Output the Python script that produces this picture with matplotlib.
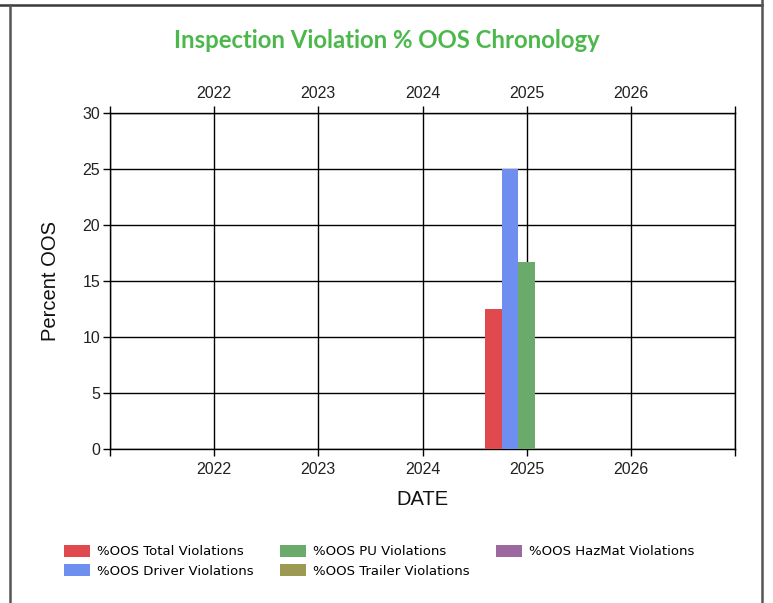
import numpy as np
import matplotlib.pyplot as plt
from matplotlib.lines import Line2D

# Data
years = [2025]
series = ["%OOS Total Violations", "%OOS Driver Violations", "%OOS PU Violations",
          "%OOS Trailer Violations", "%OOS HazMat Violations"]
total = [12.5]
driver = [25.0]
pu = [16.67]
trailer = [0.0]
hazmat = [0.0]
colors = ["#e04a4e", "#6f8ff0", "#6aaa6a", "#9c9a52", "#9b68a0"]

tick_years = [2021, 2022, 2023, 2024, 2025, 2026, 2027]
tick_labels = ["", "2022", "2023", "2024", "2025", "2026", ""]

plt.rcParams["font.family"] = ["Liberation Sans", "DejaVu Sans"]

fig = plt.figure(figsize=(7.73, 6.03), dpi=100)
ax = fig.add_axes([110/773, 1-449/603, 625/773, 336/603])

width = 0.16
x = np.array(years, dtype=float)
for i, (vals, lab) in enumerate(zip([total, driver, pu, trailer, hazmat], series)):
    ax.bar(x + (i - 2) * width, vals, width, color=colors[i], label=lab, zorder=3)

ax.set_xlim(2021, 2027)
ax.set_ylim(0, 30)
ax.set_yticks(np.arange(0, 31, 5))
ax.set_xticks(tick_years)
ax.set_xticklabels(tick_labels)
ax.grid(True, color="black", linewidth=1, zorder=1)
ax.tick_params(axis="x", which="both", top=True, labeltop=True, direction="out",
               length=5, width=1, labelsize=11.5, colors="black", labelcolor="#222222", pad=4)
ax.tick_params(axis="y", direction="out", length=5, width=1, labelsize=11.5,
               labelcolor="#222222", pad=2)
for s in ax.spines.values():
    s.set_linewidth(1)
    s.set_color("black")

ax.set_xlabel("DATE", fontsize=14.5, labelpad=10, color="#111111")
ax.set_ylabel("Percent OOS", fontsize=14.5, labelpad=16, color="#111111")

fig.text(0.5, 1-40/603, "Inspection Violation % OOS Chronology", ha="center", va="center",
         fontsize=17.2, color="#4cb84c", family="Lato", fontweight="bold")

leg = fig.legend(loc="upper left", bbox_to_anchor=(52/773, 1-533/603), ncol=3,
                 frameon=False, prop={"family": "DejaVu Sans", "size": 9.5},
                 handlelength=2.0, handleheight=1.0,
                 columnspacing=2.0, handletextpad=0.5, labelspacing=0.45)

# outer frame
fig.add_artist(Line2D([0, 762/773], [1-5/603, 1-5/603], color="#3a3a3a", lw=1.8))
fig.add_artist(Line2D([9.5/773, 9.5/773], [0, 1-5/603], color="#555555", lw=1.8))
fig.add_artist(Line2D([762/773, 762/773], [0, 1], color="#555555", lw=1.8))

fig.savefig("out.png", dpi=100)
